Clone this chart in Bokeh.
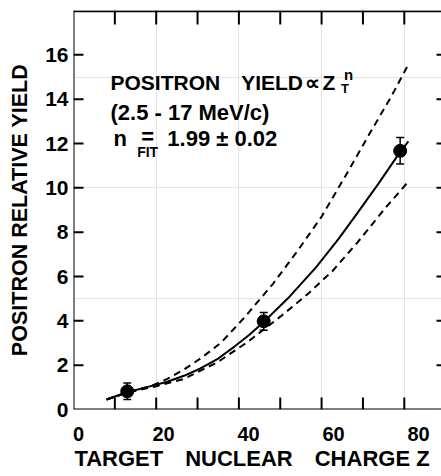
from bokeh.plotting import figure
from bokeh.models import (Range1d, LinearAxis, FixedTicker, ColumnDataSource,
                          Whisker, TeeHead, Label, Span)
from bokeh.embed import file_html
from bokeh.resources import INLINE

FONT = "Liberation Sans"

# ---- data ----
point_z = [13, 46, 79]
point_yield = [0.82, 3.98, 11.67]
point_err = [0.37, 0.40, 0.60]

fit_z = [8, 13, 18, 22.7, 26.7, 30.7, 35, 39, 42.4, 46, 52.3, 58.7, 64.2, 68.6, 73.8, 79, 81]
fit_y = [0.45, 0.78, 1.02, 1.25, 1.52, 1.85, 2.3, 2.85, 3.35, 3.95, 5.1, 6.42, 7.72, 8.85, 10.2, 11.62, 12.1]

upper_z = [8, 13, 18.6, 22.7, 26.7, 30.7, 35.6, 41.2, 48.2, 54.2, 60, 66.5, 72, 76.8, 81.2]
upper_y = [0.45, 0.78, 1.05, 1.38, 1.8, 2.3, 3.0, 4.12, 5.66, 7.16, 8.7, 10.77, 12.57, 14.1, 15.64]

lower_z = [8, 13, 20, 26.7, 34.8, 42, 50.1, 56.6, 62.7, 68.7, 75.5, 80.6]
lower_y = [0.45, 0.76, 1.05, 1.38, 2.13, 3.03, 4.2, 5.2, 6.26, 7.54, 9.11, 10.2]

x_tick_marks = [10, 20, 30, 40, 50, 60, 70, 80]
x_tick_labels = [0, 20, 40, 60, 80]
y_ticks = [0, 2, 4, 6, 8, 10, 12, 14, 16]
y_tick_marks = [2, 4, 6, 8, 10, 12, 14, 16]

X_MAX, Y_MAX = 89.0, 18.0
PX_X = 368 / X_MAX      # pixels per x unit
PX_Y = 399 / Y_MAX      # pixels per y unit

# ---- figure ----
p = figure(width=441, height=476, output_backend="svg", toolbar_location=None,
           x_range=Range1d(0, X_MAX), y_range=Range1d(0, Y_MAX),
           x_axis_location=None, y_axis_location=None,
           min_border_left=73, min_border_right=0, min_border_top=10,
           min_border_bottom=67)
p.outline_line_color = None
p.background_fill_color = "white"
p.border_fill_color = "white"
p.extra_x_ranges = {"lab": Range1d(-1.18, 85.41)}


def style(ax, size):
    ax.axis_line_color = None
    ax.major_tick_line_color = None
    ax.minor_tick_line_color = None
    ax.major_tick_in = 0
    ax.major_tick_out = 0
    ax.major_label_text_font = FONT
    ax.major_label_text_font_style = "bold"
    ax.major_label_text_font_size = size
    ax.major_label_text_color = "black"
    ax.axis_label_text_font = FONT
    ax.axis_label_text_font_style = "bold"
    ax.axis_label_text_color = "black"


left = LinearAxis(ticker=FixedTicker(ticks=y_ticks), axis_label="POSITRON RELATIVE YIELD",
                  major_label_standoff=5, axis_label_standoff=10)
style(left, "21px")
left.axis_label_text_font_size = "21.5px"
p.add_layout(left, "left")

bottom = LinearAxis(x_range_name="lab", ticker=FixedTicker(ticks=x_tick_labels),
                    major_label_standoff=17, axis_label_standoff=2,
                    axis_label="TARGET\u2003NUCLEAR\u2003CHARGE Z\u2002")
style(bottom, "20px")
bottom.axis_label_text_font_size = "22px"
p.add_layout(bottom, "below")

# frame lines (left, bottom, top; the right edge is beyond the picture)
for loc, dim in [(0, "height"), (0, "width"), (Y_MAX - 0.03, "width")]:
    p.add_layout(Span(location=loc, dimension=dim, line_color="black", line_width=2))

# inward tick marks
nx, ny = len(x_tick_marks), len(y_tick_marks)
p.segment(x0=x_tick_marks, y0=[0] * nx, x1=x_tick_marks, y1=[12 / PX_Y] * nx,
          line_color="black", line_width=2)
p.segment(x0=x_tick_marks, y0=[Y_MAX] * nx, x1=x_tick_marks, y1=[Y_MAX - 14 / PX_Y] * nx,
          line_color="black", line_width=2)
p.segment(x0=[0] * ny, y0=y_tick_marks, x1=[10 / PX_X] * ny, y1=y_tick_marks,
          line_color="black", line_width=2)
p.segment(x0=[X_MAX] * ny, y0=y_tick_marks, x1=[X_MAX - 5 / PX_X] * ny, y1=y_tick_marks,
          line_color="black", line_width=2)

# ---- curves ----
p.line(fit_z, fit_y, line_color="black", line_width=2)
p.line(upper_z, upper_y, line_color="black", line_width=2, line_dash="7 5")
p.line(lower_z, lower_y, line_color="black", line_width=2, line_dash="7 5")

# ---- points with error bars ----
src = ColumnDataSource(dict(
    z=point_z, y=point_yield,
    hi=[v + e for v, e in zip(point_yield, point_err)],
    lo=[v - e for v, e in zip(point_yield, point_err)],
))
p.add_layout(Whisker(base="z", upper="hi", lower="lo", source=src, dimension="height",
                     line_color="black", line_width=1.5,
                     upper_head=TeeHead(size=8, line_width=1.5, line_color="black"),
                     lower_head=TeeHead(size=8, line_width=1.5, line_color="black")))
p.scatter("z", "y", source=src, size=13, color="black")


# ---- annotation texts ----
def lab(x, y, text, size="22px"):
    p.add_layout(Label(x=x, y=y, text=text, text_font=FONT, text_font_style="bold",
                       text_font_size=size, text_color="black",
                       text_baseline="alphabetic", text_align="left"))


lab(8.94, 14.75, "POSITRON\u2003YIELD", "21px")
lab(55.9, 14.75, "\u221d", "21px")
lab(60.2, 14.75, "Z", "21px")
lab(65.4, 15.1, "n", "15px")
lab(64.7, 14.5, "T", "13px")
lab(8.94, 13.42, "(2.5 - 17 MeV/c)")
lab(9.66, 12.22, "n")
lab(16.4, 12.3, "=")
lab(15.4, 11.6, "FIT", "14px")
lab(22.7, 12.22, "1.99 \u00b1 0.02")
lab(86.5, -2.7, "T", "12px")

open("out.html", "w").write(file_html(p, INLINE))
